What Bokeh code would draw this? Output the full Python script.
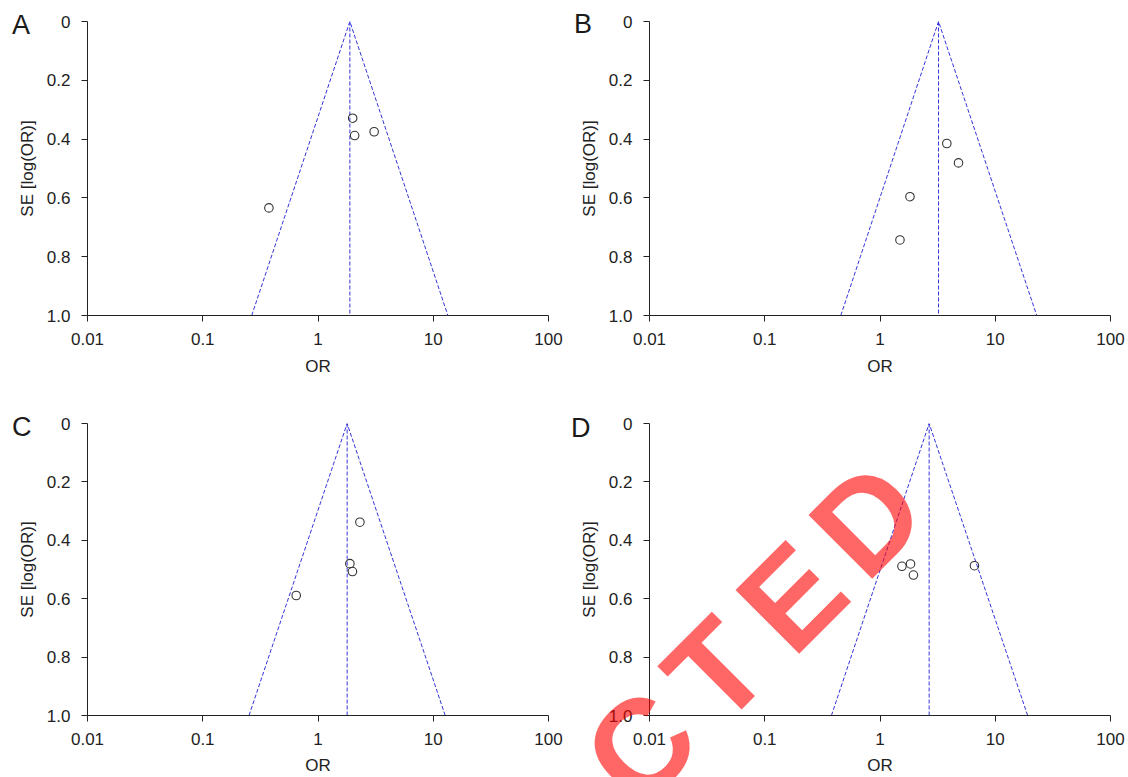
from bokeh.plotting import figure
from bokeh.models import Range1d, FixedTicker, PrintfTickFormatter, GridBox, Div
from bokeh.embed import file_html
from bokeh.resources import INLINE

# ---------------- data ----------------
panel_letters = ["A", "B", "C", "D"]

or_A = [2.00, 2.08, 3.07, 0.375]
se_A = [0.329, 0.388, 0.375, 0.634]
or_B = [3.80, 4.80, 1.82, 1.49]
se_B = [0.415, 0.481, 0.596, 0.743]
or_C = [2.31, 1.89, 1.99, 0.647]
se_C = [0.338, 0.480, 0.507, 0.589]
or_D = [1.55, 1.84, 1.95, 6.60]
se_D = [0.489, 0.481, 0.519, 0.487]

pooled_or = [1.89, 3.22, 1.79, 2.67]      # vertical line (pooled OR)
funnel_lo = [0.266, 0.457, 0.252, 0.379]  # funnel lower limit at SE = 1.0
funnel_hi = [13.4, 22.9, 12.7, 19.1]      # funnel upper limit at SE = 1.0
se_max = 1.0

x_ticks = [0.01, 0.1, 1, 10, 100]
x_tick_labels = ["0.01", "0.1", "1", "10", "100"]
y_ticks = [0, 0.2, 0.4, 0.6, 0.8, 1.0]
y_tick_labels = ["0", "0.2", "0.4", "0.6", "0.8", "1.0"]

# red "RETRACTED" stamp: only its last letters fall inside the page
watermark_letters = ["C", "T", "E", "D"]

AX = "#222222"
BLUE = "#3434dc"
FONT = "Liberation Sans"
PAGE_W, PAGE_H = 1126, 777


def make_panel(ors, ses, pooled, lo, hi, width, height,
               b_left, b_right, b_top, b_bottom, xlab_standoff):
    p = figure(width=width, height=height, x_axis_type="log",
               x_range=Range1d(x_ticks[0], x_ticks[-1]),
               y_range=Range1d(y_ticks[-1], y_ticks[0]),
               output_backend="svg", toolbar_location=None,
               min_border_left=b_left, min_border_right=b_right,
               min_border_top=b_top, min_border_bottom=b_bottom)
    p.xgrid.visible = False
    p.ygrid.visible = False
    p.outline_line_color = None
    p.background_fill_color = "white"
    p.border_fill_color = "white"

    # funnel (pseudo 95% CI) and pooled line
    p.line(x=[lo, pooled, hi], y=[se_max, 0, se_max], line_color=BLUE,
           line_width=1, line_dash="4 2")
    p.line(x=[pooled, pooled], y=[0, se_max], line_color=BLUE,
           line_width=1, line_dash="4 2")
    # studies
    p.scatter(x=ors, y=ses, marker="circle", size=8.5, fill_color=None,
              line_color="#333333", line_width=1.1)

    xa = p.xaxis[0]
    ya = p.yaxis[0]
    xa.ticker = FixedTicker(ticks=x_ticks)
    xa.formatter = PrintfTickFormatter(format="%g")
    xa.major_label_overrides = dict(zip(x_ticks, x_tick_labels))
    ya.ticker = FixedTicker(ticks=y_ticks)
    ya.major_label_overrides = dict(zip(y_ticks, y_tick_labels))
    xa.axis_label = "OR"
    ya.axis_label = "SE [log(OR)]"
    for ax in (xa, ya):
        ax.axis_line_color = AX
        ax.axis_line_width = 1
        ax.major_tick_line_color = AX
        ax.major_tick_out = 6
        ax.major_tick_in = 0
        ax.minor_tick_line_color = None
        ax.major_label_text_font = FONT
        ax.major_label_text_font_size = "17px"
        ax.major_label_text_color = AX
        ax.axis_label_text_font = FONT
        ax.axis_label_text_font_size = "17px"
        ax.axis_label_text_font_style = "normal"
        ax.axis_label_text_color = AX
    xa.major_label_standoff = 11
    ya.major_label_standoff = 11
    xa.axis_label_standoff = xlab_standoff
    ya.axis_label_standoff = 7
    return p


pA = make_panel(or_A, se_A, pooled_or[0], funnel_lo[0], funnel_hi[0],
                568, 410, 87, 20, 21, 95, 9)
pB = make_panel(or_B, se_B, pooled_or[1], funnel_lo[1], funnel_hi[1],
                558, 410, 81, 16, 21, 95, 9)
pC = make_panel(or_C, se_C, pooled_or[2], funnel_lo[2], funnel_hi[2],
                568, 367, 87, 20, 13, 60, 8)
pD = make_panel(or_D, se_D, pooled_or[3], funnel_lo[3], funnel_hi[3],
                558, 367, 81, 16, 13, 60, 8)

# transparent overlay (page pixel coordinates) with the panel letters and
# the red stamp, drawn as SVG text
letter_x = [12, 574, 12, 571]
letter_y = [34, 33, 436, 437]
wm_x = [639, 720, 793, 866]
wm_y = [812, 731, 660, 585]

parts = ['<svg xmlns="http://www.w3.org/2000/svg" width="%d" height="%d" '
         'style="display:block;overflow:hidden">' % (PAGE_W, PAGE_H)]
for ch, lx, ly in zip(panel_letters, letter_x, letter_y):
    parts.append('<text x="%g" y="%g" font-family="Lato" font-size="27px" '
                 'fill="#1a1a1a">%s</text>' % (lx, ly, ch))
for ch, wx, wy in zip(watermark_letters, wm_x, wm_y):
    parts.append('<text x="%g" y="%g" transform="rotate(-45 %g %g)" '
                 'font-family="Liberation Sans" font-weight="bold" '
                 'font-size="131px" fill="#ff0000" fill-opacity="0.6">%s</text>'
                 % (wx, wy, wx, wy, ch))
parts.append('</svg>')
overlay = Div(text="".join(parts), width=PAGE_W, height=PAGE_H, margin=0,
              styles={"pointer-events": "none", "padding": "0"})

layout = GridBox(children=[(pA, 0, 0), (pB, 0, 1), (pC, 1, 0), (pD, 1, 1),
                           (overlay, 0, 0, 2, 2)])
open("out.html", "w").write(file_html(layout, INLINE))
